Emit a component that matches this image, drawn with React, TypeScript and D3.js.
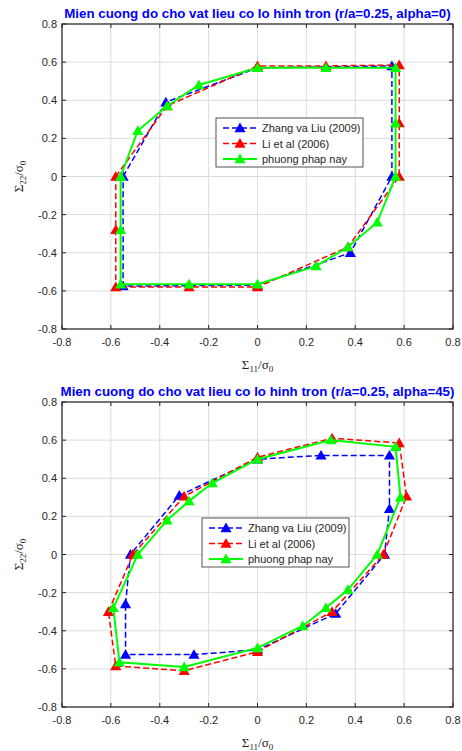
import { useEffect } from 'react';
import * as d3 from 'd3';

type Pt = [number, number];

// alpha = 0
const zhang0: Pt[] = [
  [-0.55, 0], [-0.375, 0.39], [0, 0.57], [0.55, 0.58], [0.55, 0],
  [0.38, -0.4], [0, -0.57], [-0.55, -0.575], [-0.55, 0]
];
const li0: Pt[] = [
  [-0.58, 0], [-0.37, 0.37], [0, 0.58], [0.28, 0.58], [0.58, 0.585], [0.58, 0.28],
  [0.58, 0], [0.37, -0.37], [0, -0.58], [-0.28, -0.58], [-0.58, -0.58], [-0.58, -0.28], [-0.58, 0]
];
const ours0: Pt[] = [
  [-0.56, 0], [-0.49, 0.24], [-0.37, 0.37], [-0.24, 0.48], [0, 0.57], [0.28, 0.57],
  [0.565, 0.57], [0.565, 0.28], [0.565, 0], [0.49, -0.24], [0.37, -0.37], [0.24, -0.47],
  [0, -0.565], [-0.28, -0.565], [-0.56, -0.565], [-0.56, -0.28], [-0.56, 0]
];

// alpha = 45
const zhang45: Pt[] = [
  [-0.54, -0.26], [-0.52, 0], [-0.32, 0.31], [0, 0.5], [0.26, 0.52], [0.54, 0.52],
  [0.54, 0.24], [0.52, 0], [0.32, -0.31], [0, -0.5], [-0.26, -0.525], [-0.54, -0.525], [-0.54, -0.26]
];
const li45: Pt[] = [
  [-0.61, -0.3], [-0.51, 0], [-0.3, 0.305], [0, 0.51], [0.305, 0.61], [0.58, 0.585],
  [0.61, 0.305], [0.515, 0], [0.305, -0.3], [0, -0.51], [-0.3, -0.61], [-0.58, -0.585], [-0.61, -0.3]
];
const ours45: Pt[] = [
  [-0.59, -0.28], [-0.49, 0], [-0.37, 0.18], [-0.28, 0.28], [-0.185, 0.375], [0, 0.5],
  [0.3, 0.6], [0.565, 0.565], [0.585, 0.3], [0.49, 0], [0.37, -0.185], [0.28, -0.28],
  [0.185, -0.375], [0, -0.49], [-0.3, -0.59], [-0.565, -0.565], [-0.59, -0.28]
];

const ticks = [-0.8, -0.6, -0.4, -0.2, 0, 0.2, 0.4, 0.6, 0.8];
const legendLabels = ['Zhang va Liu (2009)', 'Li et al (2006)', 'phuong phap nay'];
const colors = ['#0000ff', '#ff0000', '#00ff00'];
const dashes = ['6,3', '6,3', null];
const widths = [1.5, 1.5, 2];

const axisColor = '#262626';
const tri = d3.symbol().type(d3.symbolTriangle).size(54)() || '';

interface PanelProps {
  top: number;
  title: string;
  series: Pt[][];
  legendX: number;
  legendY: number;
}

function Panel({ top, title, series, legendX, legendY }: PanelProps) {
  const x = d3.scaleLinear().domain([-0.8, 0.8]).range([62, 453]);
  const y = d3.scaleLinear().domain([-0.8, 0.8]).range([top + 305, top]);
  const line = d3.line<Pt>().x((d) => x(d[0])).y((d) => y(d[1]));
  const x0 = x(-0.8), x1 = x(0.8), y0 = y(0.8), y1 = y(-0.8);
  const tk = 4;

  return (
    <g>
      <text x={(x0 + x1) / 2} y={top - 6} textAnchor="middle" fill="#0000ff"
        fontFamily="Liberation Sans, Arial, sans-serif" fontWeight="bold" fontSize={13.3}>
        {title}
      </text>
      <rect x={x0} y={y0} width={x1 - x0} height={y1 - y0} fill="#fff" />
      {ticks.map((t) => (
        <g key={t}>
          <line x1={x(t)} x2={x(t)} y1={y0} y2={y1} stroke="#dcdcdc" strokeWidth={1} />
          <line x1={x0} x2={x1} y1={y(t)} y2={y(t)} stroke="#dcdcdc" strokeWidth={1} />
        </g>
      ))}
      {series.map((s, i) => (
        <g key={i}>
          <path d={line(s) || ''} fill="none" stroke={colors[i]} strokeWidth={widths[i]}
            strokeDasharray={dashes[i] || undefined} />
          {s.slice(0, -1).map((p, j) => (
            <path key={j} d={tri} transform={`translate(${x(p[0])},${y(p[1]) + 1})`} fill={colors[i]} />
          ))}
        </g>
      ))}
      <rect x={x0} y={y0} width={x1 - x0} height={y1 - y0} fill="none" stroke={axisColor} strokeWidth={1.2} />
      {ticks.map((t) => (
        <g key={'t' + t} stroke={axisColor} strokeWidth={1}>
          <line x1={x(t)} x2={x(t)} y1={y1} y2={y1 - tk} />
          <line x1={x(t)} x2={x(t)} y1={y0} y2={y0 + tk} />
          <line x1={x0} x2={x0 + tk} y1={y(t)} y2={y(t)} />
          <line x1={x1} x2={x1 - tk} y1={y(t)} y2={y(t)} />
        </g>
      ))}
      {ticks.map((t) => (
        <g key={'l' + t} fontFamily="Liberation Sans, Arial, sans-serif" fontSize={11} fill={axisColor}>
          <text x={x(t)} y={y1 + 17} textAnchor="middle">{t === 0 ? '0' : t.toFixed(1)}</text>
          <text x={x0 - 5} y={y(t) + 4} textAnchor="end">{t === 0 ? '0' : t.toFixed(1)}</text>
        </g>
      ))}
      <text x={(x0 + x1) / 2} y={y1 + 40} textAnchor="middle" fontFamily="Liberation Serif, Times New Roman, serif"
        fontSize={13} fill={axisColor}>
        Σ<tspan fontSize={9} dy={3}>11</tspan><tspan dy={-3}>/σ</tspan><tspan fontSize={9} dy={3}>0</tspan>
      </text>
      <text transform={`translate(23,${(y0 + y1) / 2}) rotate(-90)`} textAnchor="middle"
        fontFamily="Liberation Serif, Times New Roman, serif" fontSize={13} fill={axisColor}>
        Σ<tspan fontSize={9} dy={3}>22</tspan><tspan dy={-3}>/σ</tspan><tspan fontSize={9} dy={3}>0</tspan>
      </text>
      <g transform={`translate(${legendX},${legendY})`}>
        <rect x={0} y={0} width={147} height={49} fill="#fff" stroke={axisColor} strokeWidth={0.8} />
        {legendLabels.map((lab, i) => (
          <g key={lab} transform={`translate(0,${10 + i * 15.5})`}>
            <line x1={7} x2={41} y1={0} y2={0} stroke={colors[i]} strokeWidth={widths[i]}
              strokeDasharray={dashes[i] || undefined} />
            <path d={tri} transform="translate(24,1)" fill={colors[i]} />
            <text x={46} y={4} fontFamily="Liberation Sans, Arial, sans-serif" fontSize={11} fill={axisColor}>{lab}</text>
          </g>
        ))}
      </g>
    </g>
  );
}

export default function App() {
  useEffect(() => {
    document.body.style.margin = '0';
  }, []);
  return (
    <svg width={462} height={751} style={{ display: 'block', position: 'absolute', left: 0, top: 0 }}>
      <rect width={462} height={751} fill="#fff" />
      <Panel top={24} title="Mien cuong do cho vat lieu co lo hinh tron (r/a=0.25, alpha=0)"
        series={[zhang0, li0, ours0]} legendX={216} legendY={118} />
      <Panel top={402} title="Mien cuong do cho vat lieu co lo hinh tron (r/a=0.25, alpha=45)"
        series={[zhang45, li45, ours45]} legendX={202} legendY={518} />
    </svg>
  );
}
